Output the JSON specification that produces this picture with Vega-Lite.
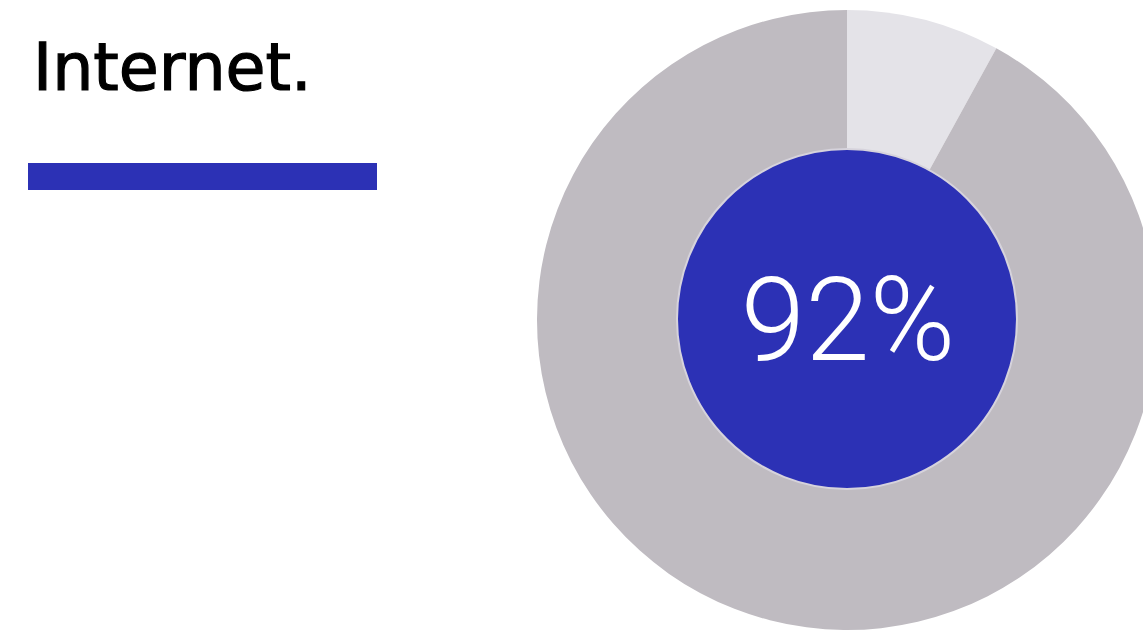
{
  "$schema": "https://vega.github.io/schema/vega-lite/v6.json",
  "width": 1143,
  "height": 632,
  "padding": 0,
  "autosize": "none",
  "background": "white",
  "config": {"view": {"stroke": null}},
  "datasets": {
    "share": [
      {"answer": "No", "percent": 8},
      {"answer": "Yes", "percent": 92}
    ],
    "labels": [
      {"headline": "Internet.", "figure": "92%"}
    ]
  },
  "layer": [
    {
      "data": {"name": "share"},
      "mark": {"type": "arc", "x": 847, "y": 320, "radius": 310, "innerRadius": 0, "stroke": null},
      "encoding": {
        "theta": {"field": "percent", "type": "quantitative", "stack": true},
        "color": {
          "field": "answer",
          "type": "nominal",
          "scale": {"domain": ["No", "Yes"], "range": ["#e4e3e8", "#bfbbc1"]},
          "legend": null
        },
        "order": {"field": "answer", "sort": "ascending"}
      }
    },
    {
      "data": {"name": "labels"},
      "mark": {"type": "arc", "x": 847, "y": 319, "radius": 170, "innerRadius": 0, "theta": 0, "theta2": 6.2832, "fill": "#2c31b5", "stroke": "#d6d3dc", "strokeWidth": 2},
      "encoding": {}
    },
    {
      "data": {"name": "labels"},
      "mark": {"type": "text", "x": 848, "y": 360, "align": "center", "baseline": "alphabetic", "font": "Roboto", "fontWeight": 300, "fontSize": 116, "fill": "white"},
      "encoding": {"text": {"field": "figure"}}
    },
    {
      "data": {"name": "labels"},
      "mark": {"type": "text", "x": 33, "y": 90, "align": "left", "baseline": "alphabetic", "font": "DejaVu Sans", "fontSize": 65, "fill": "black", "stroke": "black", "strokeWidth": 1.2},
      "encoding": {"text": {"field": "headline"}}
    },
    {
      "data": {"name": "labels"},
      "mark": {"type": "rect", "x": 28, "x2": 377, "y": 163, "y2": 190, "fill": "#2c31b5"},
      "encoding": {}
    }
  ]
}
